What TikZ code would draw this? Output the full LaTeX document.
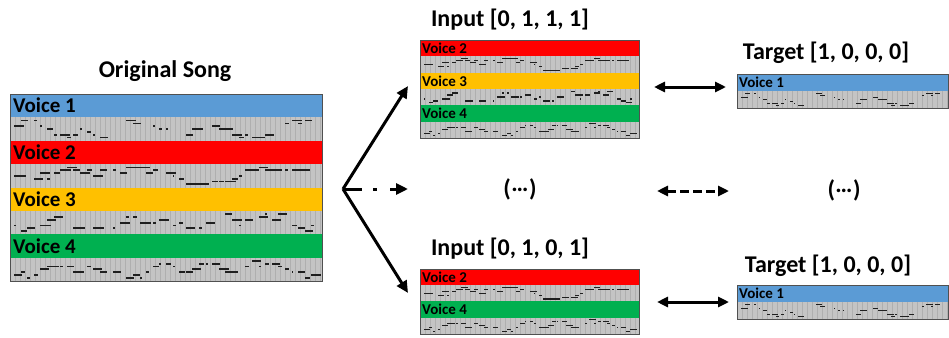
\documentclass[tikz,border=0pt]{standalone}
\usepackage{fontspec}
\setmainfont{Carlito}
\usetikzlibrary{arrows.meta}
\definecolor{vblue}{HTML}{5B9BD5}
\definecolor{vred}{HTML}{FF0000}
\definecolor{vorange}{HTML}{FFC000}
\definecolor{vgreen}{HTML}{00B050}
\definecolor{lanegray}{HTML}{C4C4C4}
\definecolor{gridgray}{HTML}{AFAFAF}
\definecolor{boxgray}{HTML}{505050}
\newcommand\notelane[5]{% x0 x1 y0 h seed
  \fill[lanegray] (#1,#3) rectangle (#2,#3+#4);
  \pgfmathtruncatemacro\ngrid{(#2-#1)/5}
  \foreach \k in {1,...,\ngrid}{\draw[gridgray,line width=0.4pt] (#1+\k*5,#3) -- ++(0,#4);}
  \pgfmathsetseed{#5}
  \xdef\nlev{3}
  \pgfmathsetmacro\nsp{(#2-#1-8)/46}
  \foreach \k in {0,...,45}{
    \pgfmathtruncatemacro\nstep{random(-2,2)}
    \pgfmathtruncatemacro\nnew{\nlev+\nstep}
    \pgfmathtruncatemacro\nnew{\nnew<0 ? -\nnew : (\nnew>6 ? 12-\nnew : \nnew)}
    \xdef\nlev{\nnew}
    \pgfmathtruncatemacro\nskip{random(1,7)}
    \pgfmathsetmacro\nlen{random(2,11)*\nsp/7}
    \ifnum\nskip>1
    \fill[black!88] (#1+4+\k*\nsp,#3+#4*0.1+\nnew*#4*0.12) rectangle ++(\nlen,#4*0.075);
    \fi
  }
}
\tikzset{
  title/.style={font=\bfseries\fontsize{24}{28}\selectfont,inner sep=0pt,anchor=base},
  biglabel/.style={font=\bfseries\fontsize{21}{24}\selectfont,inner sep=0pt,anchor=west},
  smalllabel/.style={font=\bfseries\fontsize{15}{17}\selectfont,inner sep=0pt,anchor=west},
  boxframe/.style={draw=boxgray,line width=1.3pt},
  dotsnode/.style={font=\bfseries\fontsize{24}{28}\selectfont,inner sep=0pt},
  arr/.style={line width=3pt,-{Triangle[length=12pt,width=11pt]}},
  darr/.style={line width=3pt,{Triangle[length=11pt,width=10pt]}-{Triangle[length=11pt,width=10pt]}},
}
\newcommand\middots{(\kern0.5pt\raisebox{0.21em}{…}\kern0.5pt)}
\begin{document}
\begin{tikzpicture}[x=1pt,y=-1pt]
\useasboundingbox (0,0) rectangle (949,337);
% ---------- Original song ----------
\node[title] (ttlorig) at (165,77) {Original Song};
\fill[vblue]   (10,94) rectangle (322,117.4);
\notelane{10}{322}{117.4}{23.4}{11}
\fill[vred]    (10,140.8) rectangle (322,164.2);
\notelane{10}{322}{164.2}{23.4}{12}
\fill[vorange] (10,187.6) rectangle (322,211);
\notelane{10}{322}{211}{23.4}{13}
\fill[vgreen]  (10,234.4) rectangle (322,257.8);
\notelane{10}{322}{257.8}{23.2}{14}
\node[boxframe,minimum width=312pt,minimum height=187pt,inner sep=0pt,anchor=north west] (orig) at (10,94) {};
\node[biglabel] (o1) at (13,105.7) {Voice 1};
\node[biglabel] (o2) at (13,152.5) {Voice 2};
\node[biglabel] (o3) at (13,199.3) {Voice 3};
\node[biglabel] (o4) at (13,246.1) {Voice 4};
% ---------- Input top ----------
\node[title] (ttlin1) at (510,27) {Input [0, 1, 1, 1]};
\fill[vred]    (420,40) rectangle (639,56.3);
\notelane{420}{639}{56.3}{16.3}{12}
\fill[vorange] (420,72.6) rectangle (639,88.9);
\notelane{420}{639}{88.9}{16.3}{13}
\fill[vgreen]  (420,105.2) rectangle (639,121.5);
\notelane{420}{639}{121.5}{16.5}{14}
\node[boxframe,minimum width=219pt,minimum height=98pt,inner sep=0pt,anchor=north west] (in1) at (420,40) {};
\node[smalllabel] (i12) at (422,48.2) {Voice 2};
\node[smalllabel] (i13) at (422,80.8) {Voice 3};
\node[smalllabel] (i14) at (422,113.4) {Voice 4};
% ---------- Target top ----------
\node[title] (ttltg1) at (826,59.5) {Target [1, 0, 0, 0]};
\fill[vblue] (737,74) rectangle (948,91);
\notelane{737}{948}{91}{17}{11}
\node[boxframe,minimum width=211pt,minimum height=34pt,inner sep=0pt,anchor=north west] (tg1) at (737,74) {};
\node[smalllabel] (t11) at (739,82.5) {Voice 1};
% ---------- Input bottom ----------
\node[title] (ttlin2) at (510,255.5) {Input [0, 1, 0, 1]};
\fill[vred]   (420,269) rectangle (639,285.2);
\notelane{420}{639}{285.2}{16.2}{12}
\fill[vgreen] (420,301.4) rectangle (639,317.6);
\notelane{420}{639}{317.6}{16.4}{14}
\node[boxframe,minimum width=219pt,minimum height=65pt,inner sep=0pt,anchor=north west] (in2) at (420,269) {};
\node[smalllabel] (i22) at (422,277.1) {Voice 2};
\node[smalllabel] (i24) at (422,309.5) {Voice 4};
% ---------- Target bottom ----------
\node[title] (ttltg2) at (828,272) {Target [1, 0, 0, 0]};
\fill[vblue] (737,285) rectangle (948,302);
\notelane{737}{948}{302}{16.5}{11}
\node[boxframe,minimum width=211pt,minimum height=33.5pt,inner sep=0pt,anchor=north west] (tg2) at (737,285) {};
\node[smalllabel] (t21) at (739,293.5) {Voice 1};
% ---------- middle ----------
\node[dotsnode] (dots1) at (520,189) {\middots};
\node[dotsnode] (dots2) at (844,190) {\middots};
% ---------- connectors ----------
\coordinate (fan) at (343,189);
\coordinate (upTip) at (408,86);
\coordinate (midTip) at (408,189);
\coordinate (dnTip) at (408,293);
\draw[arr] (fan) -- (upTip);
\draw[arr] (fan) -- (dnTip);
\draw[arr,dash pattern=on 19pt off 11pt on 4pt off 13pt] (fan) -- (midTip);
\coordinate (a1l) at (654,87);
\coordinate (a1r) at (726,87);
\coordinate (a2l) at (657,191);
\coordinate (a2r) at (729,191);
\coordinate (a3l) at (657,302);
\coordinate (a3r) at (729,302);
\draw[darr] (a1l) -- (a1r);
\draw[darr,dash pattern=on 9pt off 4pt] (a2l) -- (a2r);
\draw[darr] (a3l) -- (a3r);
\end{tikzpicture}
\end{document}
